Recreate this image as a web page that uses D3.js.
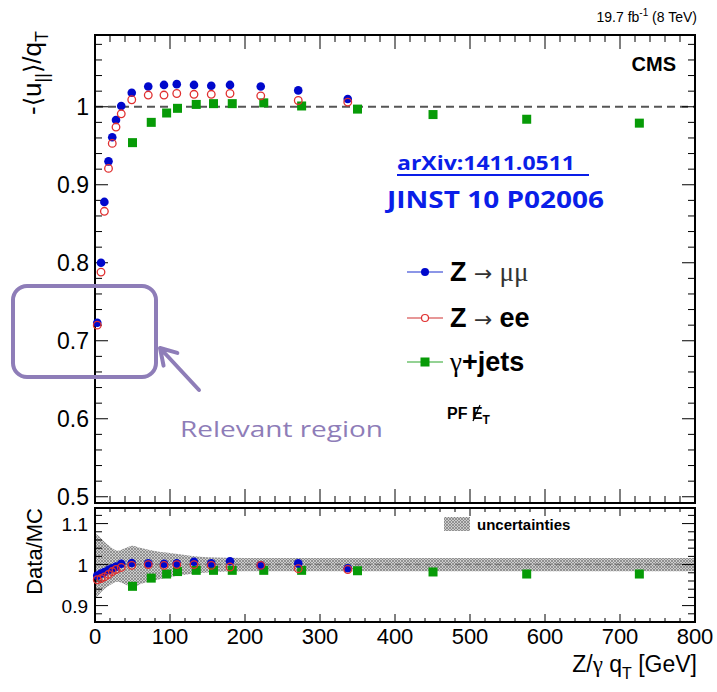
<!DOCTYPE html>
<html>
<head>
<meta charset="utf-8">
<script src="https://cdn.jsdelivr.net/npm/d3@7"></script>
<style>
  body { margin: 0; background: #fff; }
  svg { font-family: "Liberation Sans", Arial, sans-serif; }
</style>
</head>
<body>
<div id="chart"></div>
<script>
// response values
var qtZ = [3, 8, 12.5, 18, 23, 28, 35, 49, 71, 92, 109, 132, 155, 180, 221, 271, 337];
var respZmm = [0.723, 0.800, 0.878, 0.930, 0.961, 0.983, 1.001, 1.018, 1.026, 1.028, 1.029, 1.028, 1.027, 1.028, 1.026, 1.021, 1.010];
var respZee = [0.720, 0.788, 0.866, 0.921, 0.953, 0.974, 0.991, 1.009, 1.015, 1.015, 1.017, 1.016, 1.016, 1.017, 1.014, 1.008, 1.006];
var qtGj = [50, 75, 95.5, 110, 135, 158, 183, 225, 275.5, 350, 450.7, 575.6, 725.8];
var respGj = [0.954, 0.980, 0.992, 0.998, 1.003, 1.004, 1.004, 1.005, 1.001, 0.997, 0.990, 0.984, 0.979];

// data / MC
var ratioZmm = [0.973, 0.978, 0.982, 0.987, 0.991, 0.995, 1.002, 1.004, 1.003, 1.002, 1.003, 1.007, 1.003, 1.008, 0.998, 1.003, 0.991];
var ratioZee = [0.963, 0.966, 0.970, 0.976, 0.983, 0.988, 0.993, 0.998, 1.000, 0.998, 1.000, 1.000, 0.998, 0.994, 0.998, 0.990, 0.988];
var ratioGj = [0.947, 0.967, 0.977, 0.983, 0.986, 0.986, 0.986, 0.986, 0.986, 0.985, 0.982, 0.977, 0.977];

// uncertainty band
var bandQt = [0, 5, 10, 20, 30, 40, 50, 60, 80, 110, 150, 200, 250, 800];
var bandHi = [1.076, 1.070, 1.060, 1.044, 1.034, 1.040, 1.046, 1.041, 1.033, 1.026, 1.018, 1.016, 1.016, 1.016];
var bandLo = [0.920, 0.926, 0.936, 0.950, 0.958, 0.952, 0.944, 0.952, 0.962, 0.973, 0.981, 0.984, 0.984, 0.984];

var xTicks = [0, 100, 200, 300, 400, 500, 600, 700, 800];
var yTicks = [0.5, 0.6, 0.7, 0.8, 0.9, 1];
var rTicks = [0.9, 1, 1.1];

var W = 717, H = 692;
var svg = d3.select("#chart").append("svg").attr("width", W).attr("height", H);

var x = d3.scaleLinear().domain([0, 800]).range([95, 695]);
var y = d3.scaleLinear().domain([0.492, 1.092]).range([503, 35]);
var yr = d3.scaleLinear().domain([0.86, 1.138]).range([622, 508]);

// hatch pattern for uncertainties
var defs = svg.append("defs");
var pat = defs.append("pattern").attr("id", "hatch")
    .attr("width", 3).attr("height", 3).attr("patternUnits", "userSpaceOnUse");
pat.append("rect").attr("width", 3).attr("height", 3).attr("fill", "#cdcdcd");
pat.append("path").attr("d", "M0,0L3,3M3,0L0,3").attr("stroke", "#7a7a7a").attr("stroke-width", 0.7);

function frame(yScale, top, bottom, majorLen, minorLen, yMinorStep) {
    var g = svg.append("g");
    // x ticks bottom and top
    d3.range(0, 801, 20).forEach(function (v) {
        var len = v % 100 === 0 ? majorLen : minorLen;
        g.append("line").attr("x1", x(v)).attr("x2", x(v)).attr("y1", bottom).attr("y2", bottom - len)
            .attr("stroke", "#000").attr("stroke-width", 1);
        g.append("line").attr("x1", x(v)).attr("x2", x(v)).attr("y1", top).attr("y2", top + len)
            .attr("stroke", "#000").attr("stroke-width", 1);
    });
    // y ticks left and right
    var d = yScale.domain();
    var start = Math.ceil(d[0] / yMinorStep - 1e-6);
    for (var k = start; k * yMinorStep <= d[1] + 1e-9; k++) {
        var v = k * yMinorStep;
        var major = Math.abs(v * 10 - Math.round(v * 10)) < 1e-6;
        var len = major ? 13 : 7;
        g.append("line").attr("x1", x(0)).attr("x2", x(0) + len).attr("y1", yScale(v)).attr("y2", yScale(v))
            .attr("stroke", "#000").attr("stroke-width", 1);
        g.append("line").attr("x1", x(800)).attr("x2", x(800) - len).attr("y1", yScale(v)).attr("y2", yScale(v))
            .attr("stroke", "#000").attr("stroke-width", 1);
    }
    g.append("rect").attr("x", x(0)).attr("y", top).attr("width", x(800) - x(0)).attr("height", bottom - top)
        .attr("fill", "none").attr("stroke", "#000").attr("stroke-width", 2);
}

// ---- main panel ----
svg.append("line").attr("x1", x(0)).attr("x2", x(800)).attr("y1", y(1)).attr("y2", y(1))
    .attr("stroke", "#555").attr("stroke-width", 2.2).attr("stroke-dasharray", "8,5");

frame(y, 35, 503, 14, 7, 0.02);

svg.selectAll(".ylab").data(yTicks).enter().append("text")
    .attr("x", 89).attr("y", function (d) { return y(d) + 8; })
    .attr("text-anchor", "end").attr("font-size", 23)
    .text(function (d) { return d; });

var gMain = svg.append("g");
gMain.selectAll(".gj").data(qtGj).enter().append("rect")
    .attr("x", function (d) { return x(d) - 4.5; })
    .attr("y", function (d, i) { return y(respGj[i]) - 4.5; })
    .attr("width", 9).attr("height", 9).attr("fill", "#079b07");
gMain.selectAll(".zmm").data(qtZ).enter().append("circle")
    .attr("cx", function (d) { return x(d); })
    .attr("cy", function (d, i) { return y(respZmm[i]); })
    .attr("r", 4.3).attr("fill", "#0008cc");
gMain.selectAll(".zee").data(qtZ).enter().append("circle")
    .attr("cx", function (d) { return x(d); })
    .attr("cy", function (d, i) { return y(respZee[i]); })
    .attr("r", 3.8).attr("fill", "none").attr("stroke", "#e03030").attr("stroke-width", 1.3);

// ---- ratio panel ----
var area = d3.area()
    .x(function (d, i) { return x(bandQt[i]); })
    .y0(function (d, i) { return yr(bandLo[i]); })
    .y1(function (d, i) { return yr(bandHi[i]); })
    .curve(d3.curveMonotoneX);
svg.append("path").datum(bandQt).attr("d", area).attr("fill", "url(#hatch)");
svg.append("line").attr("x1", x(0)).attr("x2", x(800)).attr("y1", yr(1)).attr("y2", yr(1))
    .attr("stroke", "#777").attr("stroke-width", 1.5).attr("stroke-dasharray", "6,4");

frame(yr, 508, 622, 8, 4, 0.02);

svg.selectAll(".rlab").data(rTicks).enter().append("text")
    .attr("x", 88).attr("y", function (d) { return yr(d) + 7; })
    .attr("text-anchor", "end").attr("font-size", 19)
    .text(function (d) { return d; });

var gRat = svg.append("g");
gRat.selectAll(".gj").data(qtGj).enter().append("rect")
    .attr("x", function (d) { return x(d) - 4.5; })
    .attr("y", function (d, i) { return yr(ratioGj[i]) - 4.5; })
    .attr("width", 9).attr("height", 9).attr("fill", "#079b07");
gRat.selectAll(".zmm").data(qtZ).enter().append("circle")
    .attr("cx", function (d) { return x(d); })
    .attr("cy", function (d, i) { return yr(ratioZmm[i]); })
    .attr("r", 4.3).attr("fill", "#0008cc");
gRat.selectAll(".zee").data(qtZ).enter().append("circle")
    .attr("cx", function (d) { return x(d); })
    .attr("cy", function (d, i) { return yr(ratioZee[i]); })
    .attr("r", 3.8).attr("fill", "none").attr("stroke", "#e03030").attr("stroke-width", 1.3);

svg.selectAll(".xlab").data(xTicks).enter().append("text")
    .attr("x", function (d) { return x(d); }).attr("y", 644)
    .attr("text-anchor", "middle").attr("font-size", 22)
    .text(function (d) { return d; });

// uncertainties legend
svg.append("rect").attr("x", 444).attr("y", 517).attr("width", 26).attr("height", 14).attr("fill", "url(#hatch)");
svg.append("text").attr("x", 477).attr("y", 530).attr("font-size", 15).attr("font-weight", "bold").text("uncertainties");

// ---- axis titles ----
var xt = svg.append("text").attr("x", 697).attr("y", 672).attr("text-anchor", "end").attr("font-size", 23);
xt.append("tspan").text("Z/");
xt.append("tspan").attr("font-family", "Liberation Serif").text("\u03b3");
xt.append("tspan").text(" q");
xt.append("tspan").attr("font-size", 16).attr("dy", 7).text("T");
xt.append("tspan").attr("dy", -7).text(" [GeV]");

var yt = svg.append("text").attr("transform", "translate(41,31) rotate(-90)")
    .attr("text-anchor", "end").attr("font-size", 26);
yt.append("tspan").text("-");
yt.append("tspan").attr("font-family", "DejaVu Sans").attr("font-size", 24).text("\u27e8");
yt.append("tspan").text("u");
yt.append("tspan").attr("font-size", 18).attr("dy", 7).text("||");
yt.append("tspan").attr("dy", -7).attr("font-family", "DejaVu Sans").attr("font-size", 24).text("\u27e9");
yt.append("tspan").text("/q");
yt.append("tspan").attr("font-size", 18).attr("dy", 7).text("T");

svg.append("text").attr("transform", "translate(42,508) rotate(-90)")
    .attr("text-anchor", "end").attr("font-size", 22).text("Data/MC");

// header and labels
var hd = svg.append("text").attr("x", 697).attr("y", 22).attr("text-anchor", "end").attr("font-size", 14);
hd.append("tspan").text("19.7 fb");
hd.append("tspan").attr("font-size", 10).attr("dy", -6).text("-1");
hd.append("tspan").attr("dy", 6).text(" (8 TeV)");

svg.append("text").attr("x", 676).attr("y", 71).attr("text-anchor", "end")
    .attr("font-size", 20).attr("font-weight", "bold").text("CMS");

svg.append("text").attr("x", 397).attr("y", 170).attr("font-family", "Open Sans")
    .attr("font-weight", "bold").attr("font-size", 19).attr("fill", "#0a1ee8")
    .attr("textLength", 178).attr("lengthAdjust", "spacingAndGlyphs").text("arXiv:1411.0511");
svg.append("line").attr("x1", 397).attr("x2", 589).attr("y1", 175).attr("y2", 175)
    .attr("stroke", "#0a1ee8").attr("stroke-width", 2);
svg.append("text").attr("x", 387).attr("y", 208).attr("font-family", "Open Sans")
    .attr("font-weight", "bold").attr("font-size", 24).attr("fill", "#0a1ee8")
    .attr("textLength", 217).attr("lengthAdjust", "spacingAndGlyphs").text("JINST 10 P02006");

// legend
var legend = [
    { y: 272, color: "#1a2fd0", marker: "dot" },
    { y: 318, color: "#d03030", marker: "open" },
    { y: 362, color: "#2aa52a", marker: "square" }
];
legend.forEach(function (l) {
    svg.append("line").attr("x1", 407).attr("x2", 443).attr("y1", l.y).attr("y2", l.y)
        .attr("stroke", l.color).attr("stroke-width", 1.2);
    if (l.marker === "dot") svg.append("circle").attr("cx", 425).attr("cy", l.y).attr("r", 4).attr("fill", "#0008cc");
    if (l.marker === "open") svg.append("circle").attr("cx", 425).attr("cy", l.y).attr("r", 3.5)
        .attr("fill", "#fff").attr("stroke", "#e03030").attr("stroke-width", 1.2);
    if (l.marker === "square") svg.append("rect").attr("x", 420.5).attr("y", l.y - 4.5)
        .attr("width", 9).attr("height", 9).attr("fill", "#079b07");
});
var t1 = svg.append("text").attr("x", 450).attr("y", 281).attr("font-size", 27);
t1.append("tspan").attr("font-weight", "bold").text("Z ");
t1.append("tspan").attr("font-family", "DejaVu Sans").attr("font-size", 22).attr("fill", "#333").text("\u2192 ");
t1.append("tspan").attr("font-family", "Liberation Serif").attr("fill", "#333").text("\u03bc\u03bc");
var t2 = svg.append("text").attr("x", 450).attr("y", 327).attr("font-size", 27);
t2.append("tspan").attr("font-weight", "bold").text("Z ");
t2.append("tspan").attr("font-family", "DejaVu Sans").attr("font-size", 22).attr("fill", "#333").text("\u2192 ");
t2.append("tspan").attr("font-weight", "bold").text("ee");
var t3 = svg.append("text").attr("x", 450).attr("y", 371).attr("font-size", 27);
t3.append("tspan").attr("font-family", "Liberation Serif").text("\u03b3");
t3.append("tspan").attr("font-weight", "bold").text("+jets");

var pf = svg.append("text").attr("x", 447).attr("y", 419).attr("font-size", 16).attr("font-weight", "bold");
pf.append("tspan").text("PF ");
pf.append("tspan").text("E");
pf.append("tspan").attr("font-size", 12).attr("dy", 5).text("T");
svg.append("line").attr("x1", 473).attr("x2", 480).attr("y1", 421).attr("y2", 405)
    .attr("stroke", "#000").attr("stroke-width", 1.3);

// annotation
var purple = "#8e7db8";
svg.append("rect").attr("x", 13).attr("y", 286).attr("width", 143).attr("height", 91).attr("rx", 14)
    .attr("fill", "none").attr("stroke", purple).attr("stroke-width", 4);
var tip = [160, 348], tail = [199, 390];
var ang = Math.atan2(tail[1] - tip[1], tail[0] - tip[0]);
var arm = 18, spread = 0.55;
svg.append("path")
    .attr("d", "M" + tail + "L" + tip +
        "M" + [tip[0] + arm * Math.cos(ang - spread), tip[1] + arm * Math.sin(ang - spread)] + "L" + tip +
        "L" + [tip[0] + arm * Math.cos(ang + spread), tip[1] + arm * Math.sin(ang + spread)])
    .attr("fill", "none").attr("stroke", purple).attr("stroke-width", 4).attr("stroke-linecap", "round")
    .attr("stroke-linejoin", "round");
svg.append("text").attr("x", 180).attr("y", 437).attr("font-family", "Open Sans").attr("font-size", 22)
    .attr("fill", purple).attr("textLength", 203).attr("lengthAdjust", "spacingAndGlyphs").text("Relevant region");
</script>
</body>
</html>
